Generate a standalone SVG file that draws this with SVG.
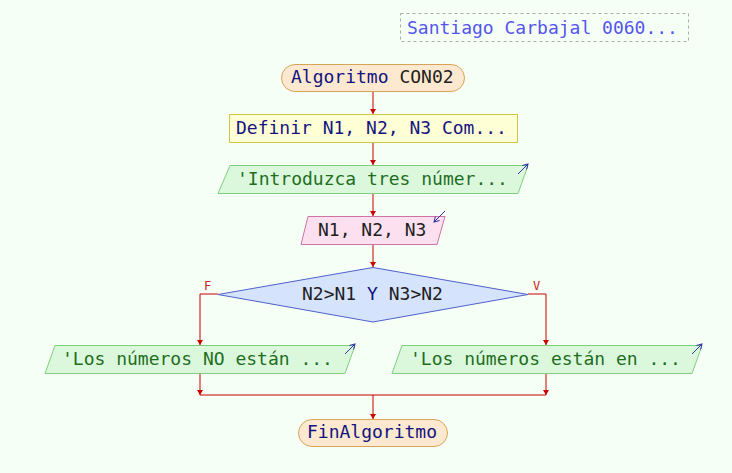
<svg xmlns="http://www.w3.org/2000/svg" width="732" height="473" viewBox="0 0 732 473">
<defs>
<marker id="ah" markerWidth="8" markerHeight="8" refX="5" refY="3" orient="auto" markerUnits="userSpaceOnUse">
<path d="M0,0 L5,3 L0,6 Z" fill="#cc0000"/>
</marker>
<marker id="bh" markerWidth="6" markerHeight="6" refX="5" refY="3" orient="auto" markerUnits="userSpaceOnUse">
<path d="M0,0 L5,3 L0,6" fill="none" stroke="#3333aa" stroke-width="1"/>
</marker>
<style>
text{font-family:"DejaVu Sans Mono","Liberation Mono",monospace;font-size:18px}
.term{fill:#fde9cf;stroke:#d9a45a;stroke-width:1}
.proc{fill:#ffffd6;stroke:#d2c646;stroke-width:1}
.out{fill:#dcf8dc;stroke:#7fcf7f;stroke-width:1}
.in{fill:#fde0ef;stroke:#cf72a4;stroke-width:1}
.dec{fill:#d6e3fc;stroke:#4f60cc;stroke-width:1}
.kw{fill:#141480}
.gt{fill:#1e6e1e}
.dk{fill:#202020}
.c{fill:none;stroke:#cc0000;stroke-width:1}
.ca{fill:none;stroke:#cc0000;stroke-width:1;marker-end:url(#ah)}
.ic{fill:none;stroke:#3333aa;stroke-width:1;marker-end:url(#bh)}
.lbl{fill:#cc2222;font-size:12px}
</style>
</defs>
<rect width="732" height="473" fill="#f5fff5"/>
<g id="title">
<rect x="400.5" y="13.5" width="288" height="28" fill="none" stroke="#aaaaaa" stroke-dasharray="3,3"/>
<text x="407" y="34" fill="#5555ee">Santiago Carbajal 0060...</text>
</g>
<g id="connectors">
<line class="ca" x1="373" y1="91" x2="373" y2="114"/>
<line class="ca" x1="373" y1="142" x2="373" y2="165"/>
<line class="ca" x1="373" y1="193" x2="373" y2="216"/>
<line class="ca" x1="373" y1="244" x2="373" y2="267"/>
<polyline class="ca" points="218,294 200,294 200,345"/>
<polyline class="ca" points="528,294 546,294 546,345"/>
<line class="ca" x1="200" y1="373" x2="200" y2="395"/>
<line class="ca" x1="546" y1="373" x2="546" y2="395"/>
<line class="c" x1="200" y1="395" x2="546" y2="395"/>
<line class="ca" x1="373" y1="395" x2="373" y2="419"/>
<text class="lbl" x="204" y="290">F</text>
<text class="lbl" x="533" y="290">V</text>
</g>
<g id="start">
<rect class="term" x="281.5" y="64.5" width="183" height="27" rx="13.5"/>
<text x="291" y="83"><tspan class="kw">Algoritmo</tspan><tspan class="dk"> CON02</tspan></text>
</g>
<g id="definir">
<rect class="proc" x="229.5" y="114.5" width="288" height="28"/>
<text x="236" y="134"><tspan class="kw">Definir</tspan><tspan class="kw"> N1, N2, N3 Com...</tspan></text>
</g>
<g id="escribir1">
<polygon class="out" points="230,165.5 528,165.5 518,193.5 218,193.5"/>
<text class="gt" x="237" y="185">'Introduzca tres númer...</text>
<line class="ic" x1="518" y1="174" x2="528" y2="164"/>
</g>
<g id="leer">
<polygon class="in" points="308,216.5 445,216.5 437,244.5 301,244.5"/>
<text class="dk" x="318" y="236">N1, N2, N3</text>
<line class="ic" x1="445" y1="211" x2="434" y2="222"/>
</g>
<g id="decision">
<polygon class="dec" points="373,267.5 528,294.5 373,322 218,294.5"/>
<text x="302" y="300"><tspan class="dk">N2&gt;N1 </tspan><tspan class="kw">Y</tspan><tspan class="dk"> N3&gt;N2</tspan></text>
</g>
<g id="escribirF">
<polygon class="out" points="55,345.5 355,345.5 345,373.5 45,373.5"/>
<text class="gt" x="62" y="365">'Los números NO están ...</text>
<line class="ic" x1="345" y1="354" x2="355" y2="344"/>
</g>
<g id="escribirV">
<polygon class="out" points="402,345.5 702,345.5 692,373.5 392,373.5"/>
<text class="gt" x="410" y="365">'Los números están en ...</text>
<line class="ic" x1="692" y1="354" x2="702" y2="344"/>
</g>
<g id="fin">
<rect class="term" x="298.5" y="419.5" width="149" height="27" rx="13.5"/>
<text class="kw" x="307" y="438">FinAlgoritmo</text>
</g>
</svg>
